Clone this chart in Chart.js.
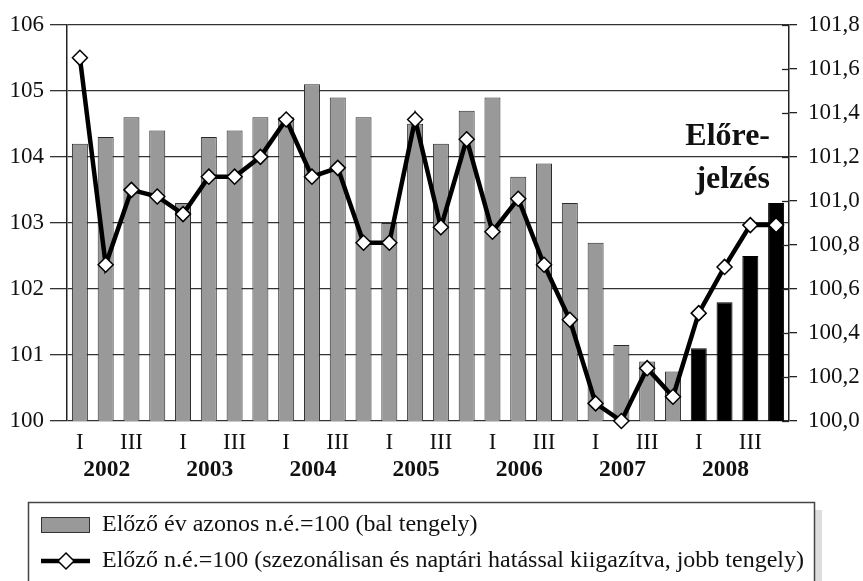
<!DOCTYPE html>
<html>
<head>
<meta charset="utf-8">
<script src="https://cdn.jsdelivr.net/npm/chart.js@4.4.1/dist/chart.umd.min.js"></script>
<style>
  html, body { margin: 0; padding: 0; background: #fff; }
  canvas { display: block; }
</style>
</head>
<body>
<canvas id="chart" width="863" height="581"></canvas>
<script>
// data
const years = ['2002', '2003', '2004', '2005', '2006', '2007', '2008'];
const quarters = ['I', 'II', 'III', 'IV'];
const forecastYear = '2008';
const yearOnYear = [
  104.2, 104.3, 104.6, 104.4,
  103.3, 104.3, 104.4, 104.6,
  104.6, 105.1, 104.9, 104.6,
  103.0, 104.5, 104.2, 104.7,
  104.9, 103.7, 103.9, 103.3,
  102.7, 101.15, 100.9, 100.75,
  101.1, 101.8, 102.5, 103.3
];
const quarterOnQuarter = [
  101.65, 100.71, 101.05, 101.02,
  100.94, 101.11, 101.11, 101.20,
  101.37, 101.11, 101.15, 100.81,
  100.81, 101.37, 100.88, 101.28,
  100.86, 101.01, 100.71, 100.46,
  100.08, 100.00, 100.24, 100.11,
  100.49, 100.70, 100.89, 100.89
];
const leftRange = [100, 106];
const rightRange = [100, 101.8];
const forecastText = ['Előre-', 'jelzés'];
const seriesNames = [
  'Előző év azonos n.é.=100 (bal tengely)',
  'Előző n.é.=100 (szezonálisan és naptári hatással kiigazítva, jobb tengely)'
];

const serif = "'Liberation Serif', 'Times New Roman', serif";
const labels = [];
years.forEach(y => quarters.forEach(q => labels.push(y + ' ' + q)));

// inner half of the cross ticks on the right axis, year labels, forecast note, legend box
const extras = {
  id: 'extras',
  afterDraw(chart) {
    const ctx = chart.ctx;
    const r = chart.scales.y1, x = chart.scales.x;
    ctx.save();
    ctx.strokeStyle = '#222';
    ctx.lineWidth = 1.3;
    r.ticks.forEach(t => {
      const py = Math.round(r.getPixelForValue(t.value)) + 0.5;
      ctx.beginPath(); ctx.moveTo(r.left - 7, py); ctx.lineTo(r.left, py); ctx.stroke();
    });

    ctx.fillStyle = '#111';
    ctx.font = 'bold 23.5px ' + serif;
    ctx.textAlign = 'center';
    ctx.textBaseline = 'middle';
    years.forEach((y, i) => {
      const px = x.getPixelForValue(i * 4 + 1) + 1;
      ctx.fillText(y, px, 470);
    });

    ctx.font = 'bold 32px ' + serif;
    ctx.textAlign = 'right';
    ctx.textBaseline = 'alphabetic';
    ctx.fillText(forecastText[0], 770, 145);
    ctx.fillText(forecastText[1], 770, 188);

    // legend
    ctx.fillStyle = '#ddd';
    ctx.fillRect(814, 510, 8, 80);
    ctx.fillStyle = '#fff';
    ctx.fillRect(28, 502, 786, 90);
    ctx.strokeStyle = '#444';
    ctx.lineWidth = 1.5;
    ctx.strokeRect(28.5, 502.5, 786, 90);

    ctx.fillStyle = '#999';
    ctx.fillRect(41, 517, 49, 16);
    ctx.strokeStyle = '#333';
    ctx.lineWidth = 1;
    ctx.strokeRect(41.5, 517.5, 48, 15);

    ctx.strokeStyle = '#000';
    ctx.lineWidth = 4.5;
    ctx.beginPath(); ctx.moveTo(41, 561); ctx.lineTo(90, 561); ctx.stroke();
    ctx.fillStyle = '#fff';
    ctx.lineWidth = 1.5;
    ctx.beginPath();
    ctx.moveTo(66, 553); ctx.lineTo(74, 561); ctx.lineTo(66, 569); ctx.lineTo(58, 561); ctx.closePath();
    ctx.fill(); ctx.stroke();

    ctx.fillStyle = '#111';
    ctx.font = '24px ' + serif;
    ctx.textAlign = 'left';
    ctx.textBaseline = 'middle';
    chart.data.datasets.forEach(ds => {
      ctx.fillText(ds.label, 102, ds.type === 'bar' ? 525 : 561);
    });
    ctx.restore();
  }
};

new Chart(document.getElementById('chart'), {
  data: {
    labels: labels,
    datasets: [
      {
        type: 'line',
        label: seriesNames[1],
        data: quarterOnQuarter,
        yAxisID: 'y1',
        order: 1,
        borderColor: '#000',
        borderWidth: 4.5,
        tension: 0,
        clip: false,
        pointStyle: 'rectRot',
        pointRadius: 7.5,
        pointBackgroundColor: '#fff',
        pointBorderColor: '#000',
        pointBorderWidth: 1.5
      },
      {
        type: 'bar',
        label: seriesNames[0],
        data: yearOnYear,
        yAxisID: 'y',
        order: 2,
        backgroundColor: c => labels[c.dataIndex].startsWith(forecastYear) ? '#000' : '#999',
        borderColor: c => labels[c.dataIndex].startsWith(forecastYear) ? '#000' : '#2a2a2a',
        borderWidth: 1,
        barPercentage: 0.62,
        categoryPercentage: 1
      }
    ]
  },
  options: {
    responsive: false,
    animation: false,
    layout: { padding: { top: 20, left: 0, right: 0, bottom: 0 } },
    plugins: { legend: { display: false }, tooltip: { enabled: false } },
    scales: {
      x: {
        offset: true,
        grid: { display: false, drawTicks: false },
        border: { display: false },
        ticks: {
          autoSkip: false, maxRotation: 0, padding: 8, color: '#111',
          font: { family: serif, size: 23 },
          callback: (v, i) => {
            const q = quarters[i % 4];
            return (q === 'I' || q === 'III') ? q : '';
          }
        },
        afterFit: s => { s.height = 160; }
      },
      y: {
        position: 'left',
        min: leftRange[0], max: leftRange[1],
        grid: { color: '#333', lineWidth: 1.3, tickLength: 17 },
        border: { color: '#222', width: 1.5 },
        ticks: { stepSize: 1, padding: 6, color: '#111', font: { family: serif, size: 23 } },
        afterFit: s => { s.width = 67; }
      },
      y1: {
        position: 'right',
        min: rightRange[0], max: rightRange[1],
        grid: { drawOnChartArea: false, color: '#222', lineWidth: 1.3, tickLength: 8 },
        border: { color: '#222', width: 1.5 },
        ticks: {
          stepSize: 0.2, padding: 11, color: '#111', font: { family: serif, size: 23 },
          callback: v => v.toFixed(1).replace('.', ',')
        },
        afterFit: s => { s.width = 74; }
      }
    }
  },
  plugins: [extras]
});
</script>
</body>
</html>
